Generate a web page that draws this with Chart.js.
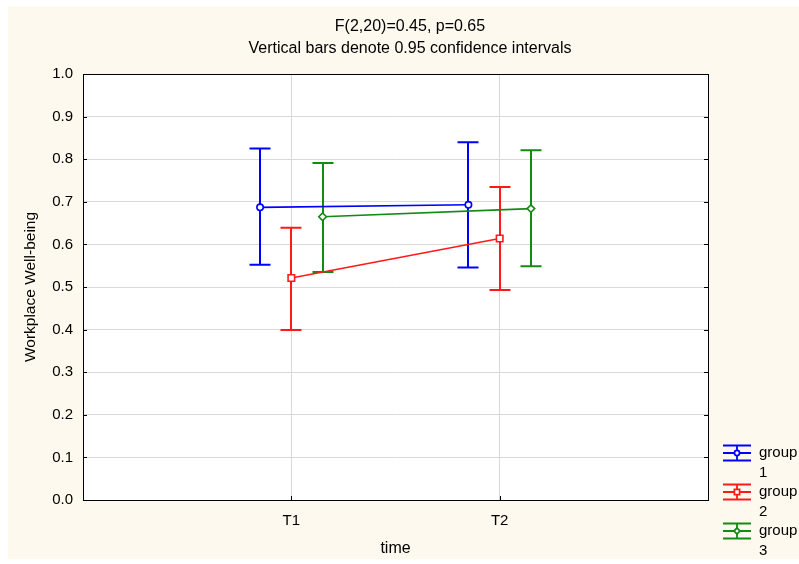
<!DOCTYPE html>
<html><head><meta charset="utf-8">
<script src="https://cdn.jsdelivr.net/npm/chart.js@4/dist/chart.umd.min.js"></script>
<style>html,body{margin:0;padding:0;background:#fff;overflow:hidden}</style>
</head><body>
<canvas id="c" width="799" height="564" style="width:799px;height:564px;display:block"></canvas>
<script>
// ---- data ----
const timePoints = ['T1', 'T2'];
const groupNames = ['group 1', 'group 2', 'group 3'];
const group1Mean  = [0.687, 0.693];
const group1Lower = [0.552, 0.546];
const group1Upper = [0.825, 0.840];
const group2Mean  = [0.521, 0.614];
const group2Lower = [0.399, 0.493];
const group2Upper = [0.639, 0.735];
const group3Mean  = [0.665, 0.684];
const group3Lower = [0.535, 0.549];
const group3Upper = [0.791, 0.821];
const yTickValues = [0.0, 0.1, 0.2, 0.3, 0.4, 0.5, 0.6, 0.7, 0.8, 0.9, 1.0];
const titleLines = ['F(2,20)=0.45, p=0.65', 'Vertical bars denote 0.95 confidence intervals'];
const xTitle = 'time';
const yTitle = 'Workplace Well-being';

// ---- styling ----
const FONT = "'Liberation Sans', Arial, sans-serif";
const groupStyles = [
  {color: '#0000ff', point: 'circle', r: 3.2, offset: -0.15},
  {color: '#ff1a1a', point: 'rect', r: 4.6, offset: 0},
  {color: '#138a13', point: 'rectRot', r: 3.8, offset: 0.15}
];
const means = [group1Mean, group2Mean, group3Mean];
const lowers = [group1Lower, group2Lower, group3Lower];
const uppers = [group1Upper, group2Upper, group3Upper];

const datasets = groupNames.map((name, g) => ({
  label: name,
  data: timePoints.map((t, i) => ({x: i + 1 + groupStyles[g].offset, y: means[g][i]})),
  borderColor: groupStyles[g].color,
  borderWidth: 1.6,
  pointStyle: groupStyles[g].point,
  pointRadius: groupStyles[g].r,
  pointBorderWidth: 1.6,
  pointBorderColor: groupStyles[g].color,
  pointBackgroundColor: '#ffffff',
  fill: false,
  tension: 0
}));

const bgPlugin = {
  id: 'bg',
  beforeDraw(chart) {
    const ctx = chart.ctx;
    ctx.save();
    ctx.fillStyle = '#ffffff';
    ctx.fillRect(0, 0, chart.width, chart.height);
    ctx.fillStyle = '#fef9ee';
    ctx.fillRect(8, 6, chart.width - 8, chart.height - 11);
    const a = chart.chartArea;
    ctx.fillStyle = '#ffffff';
    ctx.fillRect(a.left, a.top, a.right - a.left, a.bottom - a.top);
    ctx.restore();
  }
};

const errPlugin = {
  id: 'errbars',
  beforeDatasetsDraw(chart) {
    const ctx = chart.ctx;
    const xs = chart.scales.x, ys = chart.scales.y;
    ctx.save();
    ctx.lineWidth = 2;
    groupNames.forEach((n, g) => {
      ctx.strokeStyle = groupStyles[g].color;
      timePoints.forEach((t, i) => {
        const x = Math.round(xs.getPixelForValue(i + 1 + groupStyles[g].offset));
        const yl = ys.getPixelForValue(lowers[g][i]);
        const yu = ys.getPixelForValue(uppers[g][i]);
        const w = 10.5;
        ctx.beginPath();
        ctx.moveTo(x, yl); ctx.lineTo(x, yu);
        ctx.moveTo(x - w, yl); ctx.lineTo(x + w, yl);
        ctx.moveTo(x - w, yu); ctx.lineTo(x + w, yu);
        ctx.stroke();
      });
    });
    ctx.restore();
  }
};

const framePlugin = {
  id: 'frame',
  afterDraw(chart) {
    const ctx = chart.ctx;
    const a = chart.chartArea;
    const xs = chart.scales.x, ys = chart.scales.y;
    ctx.save();
    ctx.strokeStyle = '#000';
    ctx.lineWidth = 1;
    ctx.strokeRect(Math.round(a.left) + 0.5, Math.round(a.top) + 0.5, Math.round(a.right - a.left), Math.round(a.bottom - a.top));
    ctx.beginPath();
    yTickValues.forEach(v => {
      const y = Math.round(ys.getPixelForValue(v)) + 0.5;
      ctx.moveTo(a.left, y); ctx.lineTo(a.left + 4, y);
      ctx.moveTo(a.right - 4, y); ctx.lineTo(a.right, y);
    });
    timePoints.forEach((t, i) => {
      const x = Math.round(xs.getPixelForValue(i + 1)) + 0.5;
      ctx.moveTo(x, a.bottom); ctx.lineTo(x, a.bottom - 4);
    });
    ctx.stroke();

    // titles
    ctx.fillStyle = '#000';
    ctx.font = '16px ' + FONT;
    ctx.textAlign = 'center';
    ctx.textBaseline = 'middle';
    ctx.fillText(titleLines[0], 410, 27);
    ctx.fillText(titleLines[1], 410, 49);

    // legend
    const lx = 723, ly0 = 453, dy = 39;
    ctx.font = '15px ' + FONT;
    groupNames.forEach((name, g) => {
      const y = ly0 + g * dy;
      const c = groupStyles[g].color;
      ctx.strokeStyle = c;
      ctx.lineWidth = 1.8;
      ctx.beginPath();
      ctx.moveTo(lx, y - 7.5); ctx.lineTo(lx + 28, y - 7.5);
      ctx.moveTo(lx, y); ctx.lineTo(lx + 28, y);
      ctx.moveTo(lx, y + 7.5); ctx.lineTo(lx + 28, y + 7.5);
      ctx.moveTo(lx + 14, y - 7.5); ctx.lineTo(lx + 14, y + 7.5);
      ctx.stroke();
      ctx.fillStyle = '#ffffff';
      Chart.helpers.drawPoint(ctx, {pointStyle: groupStyles[g].point, radius: groupStyles[g].r * 0.8, borderWidth: 1.4}, lx + 14, y);
      ctx.fillStyle = '#000';
      ctx.textAlign = 'left';
      const parts = name.split(' ');
      ctx.fillText(parts[0], 759, y);
      ctx.fillText(parts[1], 759, y + 20);
    });
    ctx.restore();
  }
};

new Chart(document.getElementById('c'), {
  type: 'line',
  data: {datasets},
  options: {
    responsive: false,
    animation: false,
    devicePixelRatio: 1,
    layout: {padding: {left: 0, top: 74, right: 91, bottom: 0}},
    plugins: {legend: {display: false}, title: {display: false}, tooltip: {enabled: false}},
    scales: {
      x: {
        type: 'linear', min: 0, max: 3,
        afterBuildTicks: s => { s.ticks = timePoints.map((t, i) => ({value: i + 1})); },
        afterFit: s => { s.height = 64; },
        ticks: {callback: v => timePoints[v - 1], color: '#000', font: {family: FONT, size: 15}, padding: 12, maxRotation: 0},
        grid: {color: '#d9d9d9', lineWidth: 1, drawTicks: false},
        border: {display: false},
        title: {display: true, text: xTitle, color: '#000', font: {family: FONT, size: 16}, padding: {top: 0, bottom: 6}}
      },
      y: {
        type: 'linear', min: 0, max: 1,
        afterBuildTicks: s => { s.ticks = yTickValues.map(v => ({value: v})); },
        afterFit: s => { s.width = 83; },
        ticks: {callback: v => v.toFixed(1), color: '#000', font: {family: FONT, size: 15}, padding: 10},
        grid: {color: '#d9d9d9', lineWidth: 1, drawTicks: false},
        border: {display: false},
        title: {display: true, text: yTitle, color: '#000', font: {family: FONT, size: 15.5}, padding: {top: 21, bottom: 0}}
      }
    }
  },
  plugins: [bgPlugin, errPlugin, framePlugin]
});
</script>
</body></html>
